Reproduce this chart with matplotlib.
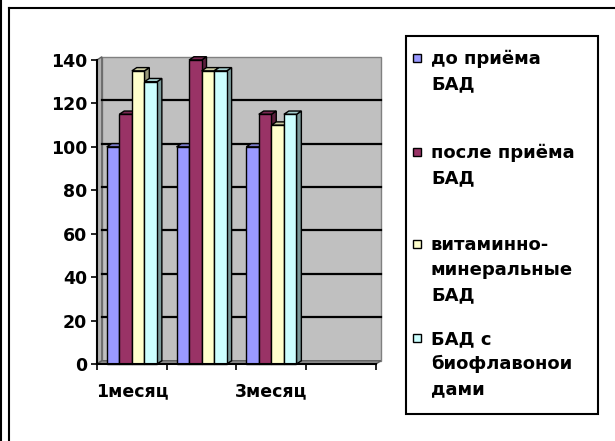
import matplotlib.pyplot as plt
import matplotlib.colors as mcolors
from matplotlib.patches import Polygon, Rectangle
from matplotlib.lines import Line2D

plt.rcParams['font.family'] = ['DejaVu Sans']
plt.rcParams['font.weight'] = 'bold'

# Данные
tick_labels = ['1месяц', '', '3месяц', '']
series_names = ['до приёма\nБАД', 'после приёма\nБАД',
                'витаминно-\nминеральные\nБАД', 'БАД с\nбиофлавонои\nдами']
series_colors = ['#9999FF', '#993366', '#FFFFCC', '#CCFFFF']
do_priema = [100, 100, 100]
posle_priema = [115, 140, 115]
vitamin_min = [135, 135, 110]
bioflav = [130, 135, 115]
series = [do_priema, posle_priema, vitamin_min, bioflav]
y_ticks = [0, 20, 40, 60, 80, 100, 120, 140]

W, H = 615, 441
fx = lambda x: x / W
fy = lambda y: 1 - y / H
FS = 12.5

fig = plt.figure(figsize=(W / 100, H / 100), dpi=100)
fig.patch.set_facecolor('white')
ax = fig.add_axes([fx(97), fy(364), 279 / W, 304 / H])
ax.set_xlim(0, 4)
ax.set_ylim(0, 140)
ax.set_facecolor('none')

# глубина 3D
dx, dy = 0.07, 1.5
ymax = 140

# Задняя стенка, боковая стенка и пол
ax.add_patch(Polygon([(dx, dy), (4 + dx, dy), (4 + dx, ymax + dy), (dx, ymax + dy)],
                     closed=True, facecolor='#C0C0C0', edgecolor='#808080', lw=1,
                     zorder=0, clip_on=False))
ax.add_patch(Polygon([(0, 0), (dx, dy), (dx, ymax + dy), (0, ymax)],
                     closed=True, facecolor='#B0B0B0', edgecolor='#606060', lw=1,
                     zorder=0.5, clip_on=False))
ax.add_patch(Polygon([(0, 0), (4, 0), (4 + dx, dy), (dx, dy)],
                     closed=True, facecolor='#909090', edgecolor='#606060', lw=1,
                     zorder=0.5, clip_on=False))
for yv in y_ticks[1:-1]:
    ax.plot([dx, 4 + dx], [yv + dy, yv + dy], color='black', lw=1.6,
            zorder=0.6, clip_on=False)

# Столбцы
w = 0.18
z = 1
for i in range(len(do_priema)):
    for j, vals in enumerate(series):
        v = vals[i]
        x = i + 0.14 + j * w
        base = mcolors.to_rgb(series_colors[j])
        top_c = tuple(c * 0.8 for c in base)
        side_c = tuple(c * 0.6 for c in base)
        ax.add_patch(Polygon([(x + w, 0), (x + w + dx, dy), (x + w + dx, v + dy), (x + w, v)],
                             closed=True, facecolor=side_c, edgecolor='black', lw=1,
                             zorder=z, clip_on=False))
        ax.add_patch(Polygon([(x, v), (x + w, v), (x + w + dx, v + dy), (x + dx, v + dy)],
                             closed=True, facecolor=top_c, edgecolor='black', lw=1,
                             zorder=z, clip_on=False))
        ax.add_patch(Rectangle((x, 0), w, v, facecolor=series_colors[j],
                               edgecolor='black', lw=1, zorder=z + 0.1, clip_on=False))
        z += 0.2

# Оси
for s in ['top', 'right']:
    ax.spines[s].set_visible(False)
for s in ['left', 'bottom']:
    ax.spines[s].set_color('black')
    ax.spines[s].set_linewidth(1.5)
    ax.spines[s].set_zorder(10)

ax.set_yticks(y_ticks)
ax.set_yticklabels([str(t) for t in y_ticks], fontsize=FS, fontweight='bold')
ax.tick_params(axis='y', length=4, width=1.2, pad=3)
ax.set_xticks([0, 1, 2, 3, 4])
ax.set_xticklabels([''] * 5)
ax.set_xticks([0.5, 1.5, 2.5, 3.5], minor=True)
ax.set_xticklabels(tick_labels, minor=True, fontsize=FS, fontweight='bold')
ax.tick_params(axis='x', which='major', length=4, width=1.2)
ax.tick_params(axis='x', which='minor', length=0, pad=13)

# Легенда
fig.add_artist(Rectangle((fx(406), fy(414)), (598 - 406) / W, (414 - 36) / H,
                         transform=fig.transFigure, fill=False, edgecolor='black', lw=1.5))
centers = [58, 152, 244, 338]
for name, col, c in zip(series_names, series_colors, centers):
    fig.add_artist(Rectangle((fx(413), fy(c + 4)), 8 / W, 8 / H, transform=fig.transFigure,
                             facecolor=col, edgecolor='black', lw=1))
    fig.text(fx(431), fy(c - 8), name, ha='left', va='top', fontsize=13,
             fontweight='bold', linespacing=1.5)

# Рамка
fig.add_artist(Line2D([fx(8.5), fx(8.5)], [0, fy(7.5)], transform=fig.transFigure,
                      color='black', lw=1.5))
fig.add_artist(Line2D([fx(8.5), 1], [fy(7.5), fy(7.5)], transform=fig.transFigure,
                      color='black', lw=1.5))
fig.add_artist(Line2D([fx(1), fx(1)], [0, 1], transform=fig.transFigure,
                      color='black', lw=1.5))

fig.savefig('out.png', dpi=100)
